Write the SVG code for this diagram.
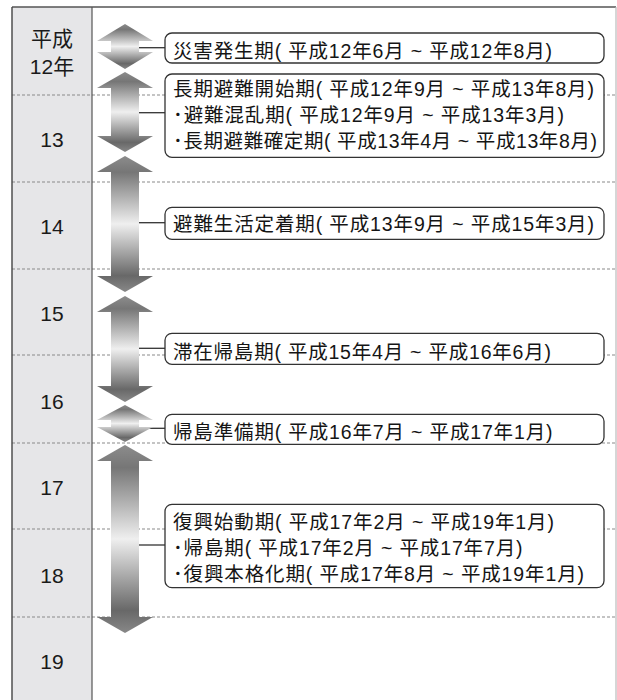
<svg xmlns="http://www.w3.org/2000/svg" width="617" height="700" viewBox="0 0 617 700">
<style>
.lbl{font-family:'Liberation Sans','Noto Sans CJK JP',sans-serif;font-size:21px;fill:#1a1a1a;text-anchor:middle}
.t{font-family:'Liberation Sans','Noto Sans CJK JP',sans-serif;font-size:19.5px;fill:#151515}
.box{fill:#fff;stroke:#333;stroke-width:1.3}
.dash{stroke:#8a8a8a;stroke-width:1.1;stroke-dasharray:3 2;fill:none}
.con{stroke:#333;stroke-width:1.3;fill:none}
.arr{fill:url(#g)}
</style>
<defs>
<linearGradient id="g" x1="0" y1="0" x2="0" y2="1">
<stop offset="0" stop-color="#8c8c8c"/>
<stop offset="0.12" stop-color="#767676"/>
<stop offset="0.5" stop-color="#efefef"/>
<stop offset="0.88" stop-color="#686868"/>
<stop offset="1" stop-color="#888"/>
</linearGradient>
</defs>
<g id="table">
<rect x="12" y="7" width="80" height="693" fill="#e6e6e8"/>
<g class="dash">
<line x1="12" y1="95" x2="616" y2="95"/>
<line x1="12" y1="182" x2="616" y2="182"/>
<line x1="12" y1="269" x2="616" y2="269"/>
<line x1="12" y1="355" x2="616" y2="355"/>
<line x1="12" y1="443" x2="616" y2="443"/>
<line x1="12" y1="529" x2="616" y2="529"/>
<line x1="12" y1="617" x2="616" y2="617"/>
</g>
<line x1="12" y1="7" x2="616" y2="7" stroke="#555" stroke-width="1.4"/>
<line x1="12" y1="7" x2="12" y2="700" stroke="#444" stroke-width="1.4"/>
<line x1="92" y1="7" x2="92" y2="700" stroke="#555" stroke-width="1.2"/>
<line x1="616" y1="7" x2="616" y2="700" stroke="#bbb" stroke-width="1.2"/>
<text class="lbl" x="52" y="46" font-size="20">平成</text>
<text class="lbl" x="52" y="74">12年</text>
<text class="lbl" x="52" y="147">13</text>
<text class="lbl" x="52" y="234">14</text>
<text class="lbl" x="52" y="321">15</text>
<text class="lbl" x="52" y="409">16</text>
<text class="lbl" x="52" y="495">17</text>
<text class="lbl" x="52" y="583">18</text>
<text class="lbl" x="52" y="669">19</text>
</g>
<g id="connectors" class="con">
<line x1="139" y1="47.7" x2="165" y2="47.7"/>
<line x1="139" y1="112.7" x2="165" y2="112.7"/>
<line x1="139" y1="222.7" x2="165" y2="222.7"/>
<line x1="139" y1="348.3" x2="165" y2="348.3"/>
<line x1="139" y1="428.3" x2="165" y2="428.3"/>
<line x1="139" y1="545" x2="165" y2="545"/>
</g>
<g id="p1">
<path class="arr" d="M125,24 L153,41 L139,41 L139,52 L153,52 L125,69 L97,52 L111,52 L111,41 L97,41 Z"/>
<rect class="box" x="165" y="33" width="439" height="30" rx="7"/>
<text class="t" x="173" y="58" textLength="379" lengthAdjust="spacing">災害発生期( 平成12年6月 ~ 平成12年8月)</text>
</g>
<g id="p2">
<path class="arr" d="M125,72 L153,88 L139,88 L139,136 L153,136 L125,152 L97,136 L111,136 L111,88 L97,88 Z"/>
<rect class="box" x="165" y="74" width="439" height="83.3" rx="7"/>
<text class="t" x="173" y="96" textLength="421" lengthAdjust="spacing">長期避難開始期( 平成12年9月 ~ 平成13年8月)</text>
<text class="t" x="173" y="122" textLength="391" lengthAdjust="spacing">･避難混乱期( 平成12年9月 ~ 平成13年3月)</text>
<text class="t" x="173" y="148" textLength="424" lengthAdjust="spacing">･長期避難確定期( 平成13年4月 ~ 平成13年8月)</text>
</g>
<g id="p3">
<path class="arr" d="M125,156 L153,172 L139,172 L139,276 L153,276 L125,292 L97,276 L111,276 L111,172 L97,172 Z"/>
<rect class="box" x="165" y="207.3" width="439" height="32" rx="7"/>
<text class="t" x="173" y="231" textLength="421" lengthAdjust="spacing">避難生活定着期( 平成13年9月 ~ 平成15年3月)</text>
</g>
<g id="p4">
<path class="arr" d="M125,296 L153,312 L139,312 L139,386 L153,386 L125,402 L97,386 L111,386 L111,312 L97,312 Z"/>
<rect class="box" x="165" y="333.3" width="439" height="31" rx="7"/>
<text class="t" x="173" y="358.5" textLength="378" lengthAdjust="spacing">滞在帰島期( 平成15年4月 ~ 平成16年6月)</text>
</g>
<g id="p5">
<path class="arr" d="M125,405 L153,420 L139,420 L139,427 L153,427 L125,442 L97,427 L111,427 L111,420 L97,420 Z"/>
<rect class="box" x="165" y="414.3" width="439" height="30" rx="7"/>
<text class="t" x="173" y="438.5" textLength="379.5" lengthAdjust="spacing">帰島準備期( 平成16年7月 ~ 平成17年1月)</text>
</g>
<g id="p6">
<path class="arr" d="M125,445 L153,461 L139,461 L139,617 L153,617 L125,633 L97,617 L111,617 L111,461 L97,461 Z"/>
<rect class="box" x="165" y="504.3" width="439" height="83.4" rx="7"/>
<text class="t" x="173" y="528.5" textLength="381" lengthAdjust="spacing">復興始動期( 平成17年2月 ~ 平成19年1月)</text>
<text class="t" x="173" y="554.5" textLength="349.5" lengthAdjust="spacing">･帰島期( 平成17年2月 ~ 平成17年7月)</text>
<text class="t" x="173" y="580.5" textLength="411" lengthAdjust="spacing">･復興本格化期( 平成17年8月 ~ 平成19年1月)</text>
</g>
</svg>
